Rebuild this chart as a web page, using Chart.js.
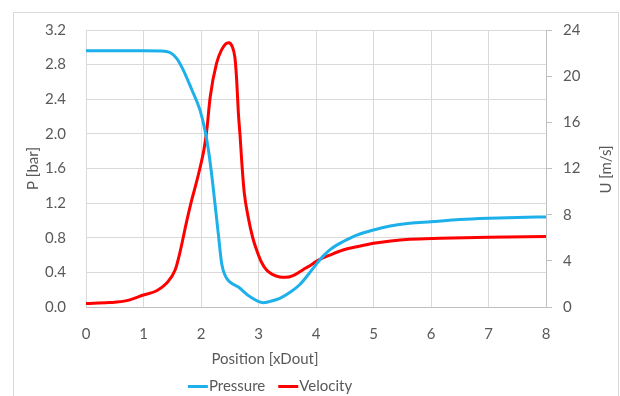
<!DOCTYPE html>
<html>
<head>
<meta charset="utf-8">
<script src="https://cdn.jsdelivr.net/npm/chart.js@4.4.1/dist/chart.umd.min.js"></script>
<style>
  html, body { margin: 0; padding: 0; background: #ffffff; }
  #wrap { position: relative; width: 620px; height: 396px; }
</style>
</head>
<body>
<div id="wrap"><canvas id="chart" width="620" height="396"></canvas></div>
<script>
// Position along the channel, in outlet diameters
const pressurePos = [0, 1.0, 1.3, 1.46, 1.58, 1.69, 1.84, 1.98, 2.07, 2.13, 2.2, 2.3, 2.36, 2.43, 2.5, 2.65, 2.85, 3.08, 3.2, 3.37, 3.55, 3.72, 3.86, 4.0, 4.12, 4.24, 4.36, 4.47, 4.71, 5.0, 5.29, 5.63, 6.0, 6.5, 7.0, 7.5, 8.0];
// Static pressure [bar]
const pressureBar = [2.96, 2.96, 2.958, 2.94, 2.87, 2.74, 2.51, 2.28, 2.04, 1.81, 1.45, 0.85, 0.50, 0.35, 0.29, 0.23, 0.12, 0.05, 0.065, 0.10, 0.17, 0.26, 0.37, 0.49, 0.585, 0.66, 0.715, 0.755, 0.83, 0.89, 0.935, 0.967, 0.985, 1.01, 1.025, 1.035, 1.04];

const velocityPos = [0, 0.4, 0.71, 1.0, 1.23, 1.4, 1.55, 1.63, 1.75, 1.84, 1.9, 1.98, 2.05, 2.10, 2.16, 2.27, 2.36, 2.43, 2.48, 2.54, 2.59, 2.62, 2.65, 2.68, 2.71, 2.75, 2.82, 2.9, 2.97, 3.05, 3.14, 3.25, 3.37, 3.47, 3.6, 3.78, 3.9, 4.0, 4.12, 4.24, 4.47, 4.71, 5.0, 5.3, 5.63, 6.16, 7.0, 8.0];
// Mean velocity [m/s]
const velocityMs = [0.3, 0.38, 0.55, 1.04, 1.41, 2.05, 3.2, 4.65, 7.4, 9.3, 10.4, 12.0, 13.6, 15.3, 18.2, 21.1, 22.3, 22.8, 22.9, 22.6, 21.6, 19.7, 16.8, 14.8, 12.5, 10.0, 7.8, 6.0, 4.9, 3.9, 3.2, 2.8, 2.6, 2.57, 2.72, 3.25, 3.6, 3.93, 4.25, 4.5, 4.94, 5.22, 5.52, 5.72, 5.86, 5.95, 6.05, 6.1];

const xTicks = [0, 1, 2, 3, 4, 5, 6, 7, 8];
const pTicks = [0, 0.4, 0.8, 1.2, 1.6, 2.0, 2.4, 2.8, 3.2];
const uTicks = [0, 4, 8, 12, 16, 20, 24];

const xTitle = 'Position [xDout]';
const pTitle = 'P [bar]';
const uTitle = 'U [m/s]';

const BLUE = '#1DB0EA';
const RED = '#FF0000';
const TEXT = '#595959';
const GRID = '#d9d9d9';
const AXIS = '#bfbfbf';
const FONT = 'Lato, "Liberation Sans", sans-serif';

const toXY = (xs, ys) => xs.map((x, i) => ({ x: x, y: ys[i] }));

// frame, x-axis title, right axis title and the legend row
const decorations = {
  id: 'decorations',
  beforeDraw(chart) {
    const c = chart.ctx;
    c.save();
    c.strokeStyle = GRID;
    c.lineWidth = 1;
    c.strokeRect(13.5, 12.5, 605, 420);
    c.restore();
  },
  afterDraw(chart) {
    const c = chart.ctx;
    const a = chart.chartArea;
    c.save();
    c.fillStyle = TEXT;
    c.font = '15px ' + FONT;
    c.textBaseline = 'middle';

    // right axis title, reading bottom to top
    c.save();
    c.translate(606, (a.top + a.bottom) / 2 + 1);
    c.rotate(-Math.PI / 2);
    c.textAlign = 'center';
    c.fillText(uTitle, 0, 0);
    c.restore();

    // x axis title
    c.textAlign = 'center';
    c.fillText(xTitle, 265, 359);

    // legend: short line sample followed by the series name
    const ds = chart.data.datasets;
    const sampleW = 20;
    const gapAfterSample = 1;
    const gapBetween = 13;
    const widths = ds.map(d => sampleW + gapAfterSample + c.measureText(d.label).width);
    const total = widths.reduce((s, w) => s + w, 0) + gapBetween * (ds.length - 1);
    let x = 270 - total / 2;
    const y = 386.5;
    c.textAlign = 'left';
    ds.forEach((d, i) => {
      c.strokeStyle = d.borderColor;
      c.lineWidth = 3;
      c.beginPath();
      c.moveTo(x, y);
      c.lineTo(x + sampleW, y);
      c.stroke();
      c.fillText(d.label, x + sampleW + gapAfterSample, y);
      x += widths[i] + gapBetween;
    });
    c.restore();
  }
};

new Chart(document.getElementById('chart'), {
  type: 'scatter',
  data: {
    datasets: [
      {
        label: 'Pressure',
        data: toXY(pressurePos, pressureBar),
        yAxisID: 'y',
        showLine: true,
        borderColor: BLUE,
        backgroundColor: BLUE,
        borderWidth: 3,
        pointRadius: 0,
        cubicInterpolationMode: 'monotone'
      },
      {
        label: 'Velocity',
        data: toXY(velocityPos, velocityMs),
        yAxisID: 'y1',
        showLine: true,
        borderColor: RED,
        backgroundColor: RED,
        borderWidth: 3,
        pointRadius: 0,
        cubicInterpolationMode: 'monotone'
      }
    ]
  },
  options: {
    responsive: false,
    animation: false,
    layout: { padding: { top: 30, left: 0, right: 0, bottom: 0 } },
    plugins: {
      tooltip: { enabled: false },
      legend: { display: false }
    },
    scales: {
      x: {
        type: 'linear',
        min: 0,
        max: 8,
        afterBuildTicks(scale) { scale.ticks = xTicks.map(v => ({ value: v })); },
        afterFit(scale) { scale.height = 89; },
        ticks: { color: TEXT, font: { family: FONT, size: 15 }, padding: 18 },
        grid: { color: GRID, lineWidth: 1, drawTicks: false },
        border: { display: true, color: AXIS, width: 1 }
      },
      y: {
        position: 'left',
        min: 0,
        max: 3.2,
        afterBuildTicks(scale) { scale.ticks = pTicks.map(v => ({ value: v })); },
        afterFit(scale) { scale.width = 86; },
        ticks: {
          color: TEXT,
          font: { family: FONT, size: 15 },
          padding: 20,
          callback: v => v.toFixed(1)
        },
        grid: { color: GRID, lineWidth: 1, drawTicks: false },
        border: { display: false },
        title: {
          display: true,
          text: pTitle,
          color: TEXT,
          font: { family: FONT, size: 15 },
          padding: { top: 24, bottom: 0 }
        }
      },
      y1: {
        position: 'right',
        min: 0,
        max: 24,
        afterBuildTicks(scale) { scale.ticks = uTicks.map(v => ({ value: v })); },
        afterFit(scale) { scale.width = 74; },
        ticks: {
          color: TEXT,
          font: { family: FONT, size: 15 },
          padding: 11
        },
        grid: { drawOnChartArea: false, drawTicks: true, tickLength: 6, color: AXIS },
        border: { display: true, color: AXIS, width: 1 }
      }
    }
  },
  plugins: [decorations]
});
</script>
</body>
</html>
